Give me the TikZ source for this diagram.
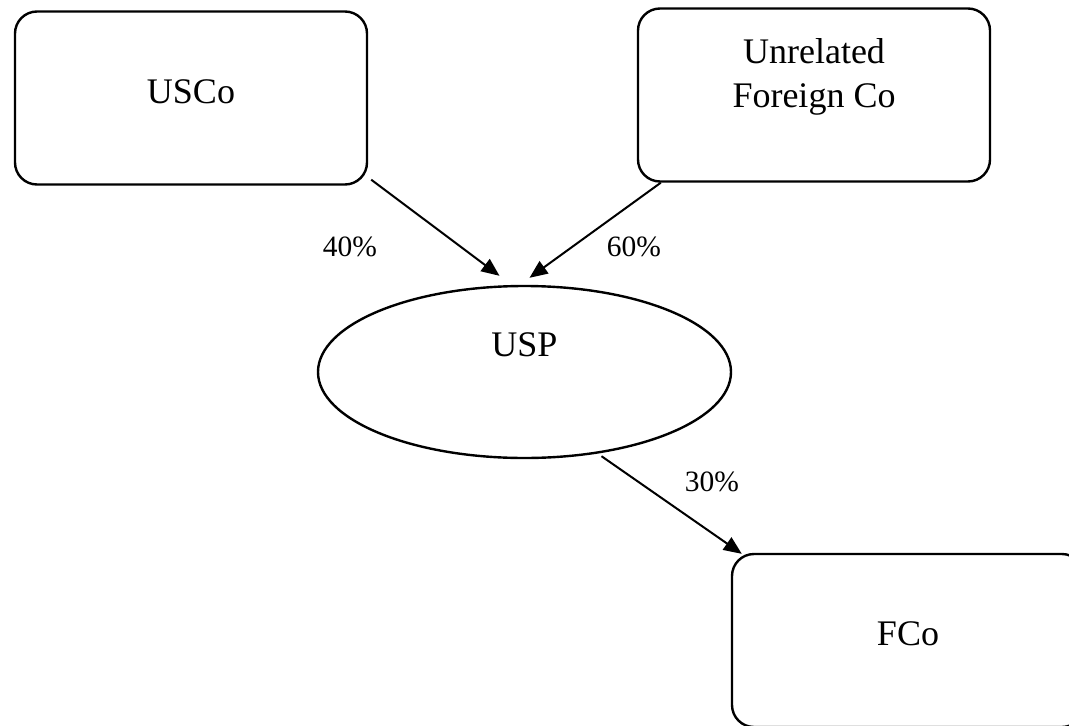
\documentclass[tikz,border=0pt]{standalone}
\usepackage{fontspec}
\setmainfont{Liberation Serif}
\usetikzlibrary{shapes.geometric, arrows.meta, positioning, calc}

\begin{document}
\begin{tikzpicture}[
    x=1pt, y=-1pt,
    company/.style={rectangle, draw, line width=2.4pt, rounded corners=22pt, minimum width=352pt, minimum height=173pt, align=center, font=\fontsize{36}{44}\selectfont, text height=24pt, text depth=14pt},
    holding/.style={ellipse, draw, line width=2.4pt, minimum width=413pt, minimum height=172pt, font=\fontsize{36}{44}\selectfont, text height=24pt, text depth=56pt},
    share/.style={font=\fontsize{29.5}{34}\selectfont},
    arrow/.style={-{Triangle[length=18pt,width=15pt]}, line width=2pt}
]
\useasboundingbox (0,0) rectangle (1069,726);

\node[company] (usco) at (191,98) {USCo};
\node[company, text depth=0pt] (ufc) at (814,95) {Unrelated\\Foreign Co};
\node[holding] (usp) at (524.5,372) {USP};
\node[company] (fco) at (908,640.5) {FCo};

\draw[arrow] ([xshift=3pt,yshift=6pt]usco.south east) -- ([xshift=-25pt,yshift=9pt]usp.north);
\draw[arrow] ([xshift=24pt]ufc.south west) -- ([xshift=5pt,yshift=7pt]usp.north);
\draw[arrow] ([xshift=77pt,yshift=3pt]usp.south) -- ([xshift=11pt,yshift=-1pt]fco.north west);

\node[share] (p40) at (350,247) {40\%};
\node[share] (p60) at (634,247) {60\%};
\node[share] (p30) at (712,482) {30\%};

\end{tikzpicture}
\end{document}
